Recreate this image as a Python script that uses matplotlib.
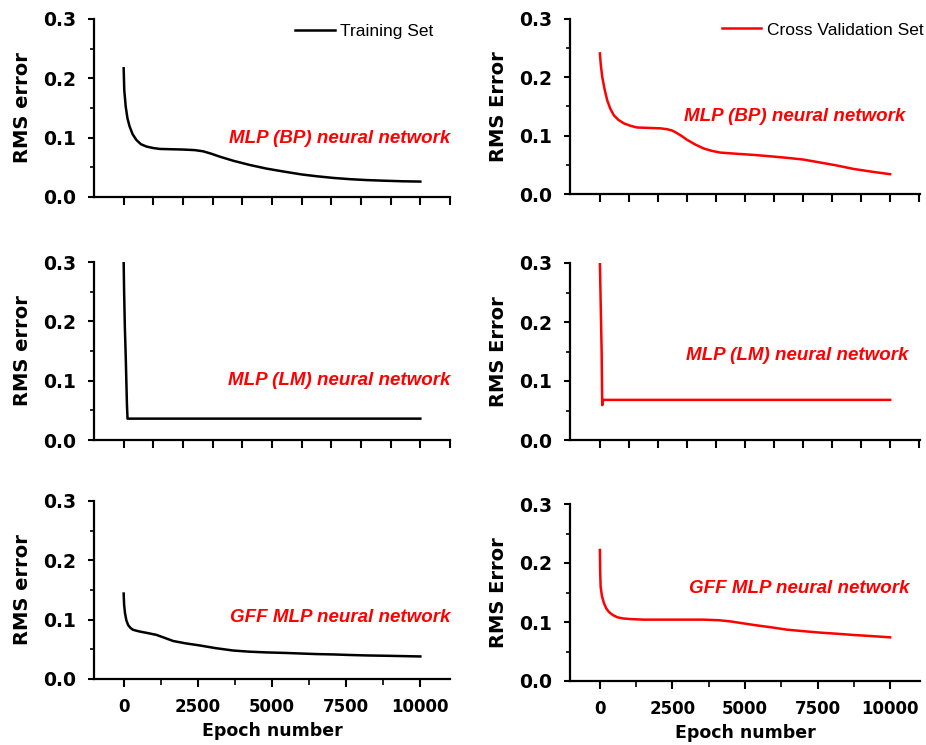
import numpy as np
import matplotlib
matplotlib.use("Agg")
import matplotlib.pyplot as plt
from matplotlib.ticker import MultipleLocator, FormatStrFormatter

plt.rcParams['font.family'] = ['DejaVu Sans']

# ---------------- data ----------------
# MLP (BP)
bp_train_x = [0, 20, 70, 130, 200, 300, 430, 580, 770, 1000, 1220, 1600, 2000, 2400, 2680, 2950, 3240,
              3700, 4250, 4800, 5380, 6000, 6500, 7100, 7640, 8200, 8760, 9400, 10000]
bp_train_y = [0.217, 0.180, 0.152, 0.132, 0.119, 0.106, 0.096, 0.089, 0.085, 0.0825, 0.081, 0.0805, 0.080, 0.079,
              0.077, 0.073, 0.068, 0.061, 0.054, 0.048, 0.043, 0.038, 0.035, 0.032, 0.030, 0.0285, 0.0275, 0.0265, 0.026]
bp_cv_x = [0, 30, 80, 160, 250, 360, 480, 640, 830, 1050, 1280, 1560, 1860, 2100, 2320, 2480, 2600, 2800,
           3000, 3280, 3580, 3850, 4150, 4700, 5300, 5900, 6450, 7020, 7300, 7590, 8150, 8740, 9400, 10000]
bp_cv_y = [0.241, 0.222, 0.201, 0.180, 0.161, 0.146, 0.135, 0.127, 0.121, 0.117, 0.114, 0.1135, 0.113, 0.1125,
           0.111, 0.109, 0.106, 0.100, 0.093, 0.085, 0.078, 0.074, 0.071, 0.069, 0.067, 0.0645, 0.062, 0.059,
           0.0565, 0.054, 0.049, 0.043, 0.038, 0.034]

# MLP (LM)
lm_train_x = [0, 15, 40, 70, 110, 130, 10000]
lm_train_y = [0.300, 0.250, 0.190, 0.140, 0.060, 0.036, 0.036]
lm_cv_x = [0, 20, 60, 80, 100, 120, 10000]
lm_cv_y = [0.300, 0.250, 0.150, 0.059, 0.065, 0.068, 0.068]

# GFF MLP
gff_train_x = [0, 15, 45, 90, 150, 230, 315, 420, 540, 800, 1100, 1400, 1670, 2100, 2570, 3100, 3690,
               4250, 4820, 5400, 5950, 6500, 7070, 7600, 8200, 9000, 10000]
gff_train_y = [0.144, 0.125, 0.111, 0.099, 0.091, 0.086, 0.083, 0.0815, 0.080, 0.0775, 0.0744, 0.069, 0.064,
               0.060, 0.0565, 0.052, 0.048, 0.046, 0.0448, 0.044, 0.043, 0.042, 0.0414, 0.0405, 0.0397, 0.039, 0.038]
gff_cv_x = [0, 10, 25, 70, 140, 220, 310, 440, 600, 800, 1050, 1500, 2430, 3000, 3580, 4100, 4500, 4900,
            5300, 5900, 6450, 7000, 7590, 8200, 8740, 9400, 10000]
gff_cv_y = [0.222, 0.185, 0.160, 0.144, 0.132, 0.123, 0.117, 0.112, 0.108, 0.106, 0.105, 0.104, 0.104, 0.104,
            0.104, 0.103, 0.101, 0.098, 0.095, 0.091, 0.087, 0.0845, 0.082, 0.080, 0.078, 0.076, 0.074]

network_names = ["MLP (BP) neural network", "MLP (LM) neural network", "GFF MLP neural network"]
train_series = [(bp_train_x, bp_train_y), (lm_train_x, lm_train_y), (gff_train_x, gff_train_y)]
cv_series = [(bp_cv_x, bp_cv_y), (lm_cv_x, lm_cv_y), (gff_cv_x, gff_cv_y)]

# ---------------- figure ----------------
fig = plt.figure(figsize=(9.26, 7.45), dpi=100)
W, H = 926.0, 745.0

def make_ax(x0, x1, ytop, ybot):
    return fig.add_axes([x0 / W, 1 - ybot / H, (x1 - x0) / W, (ybot - ytop) / H])

left_rows = [(19, 197), (262, 440), (501, 679)]
right_rows = [(19, 194), (263, 440), (504, 681)]

note_font = dict(family=['Liberation Sans', 'DejaVu Sans'], color='red', fontsize=13.5,
                 fontweight='bold', fontstyle='italic')
legend_font = {'family': ['Liberation Sans', 'DejaVu Sans'], 'size': 12.5}

def style_ax(ax, xlim, bottom):
    ax.set_xlim(*xlim)
    ax.set_ylim(0, 0.3)
    for s in ["top", "right"]:
        ax.spines[s].set_visible(False)
    for s in ["left", "bottom"]:
        ax.spines[s].set_linewidth(1.6)
    ax.yaxis.set_major_locator(MultipleLocator(0.1))
    ax.yaxis.set_minor_locator(MultipleLocator(0.05))
    ax.yaxis.set_major_formatter(FormatStrFormatter('%.1f'))
    if bottom:
        ax.xaxis.set_major_locator(MultipleLocator(2500))
        ax.xaxis.set_minor_locator(MultipleLocator(1250))
        ax.set_xlabel("Epoch number", fontsize=12.5, fontweight='bold', labelpad=4)
    else:
        ax.set_xticks(np.arange(0, 11001, 1000))
        ax.set_xticklabels([])
    ax.tick_params(axis='y', which='major', direction='out', length=4, width=1.5, labelsize=13.5, pad=9)
    ax.tick_params(axis='y', which='minor', direction='out', length=3, width=1.2)
    ax.tick_params(axis='x', which='major', direction='out', length=6, width=1.5, labelsize=12, pad=8)
    ax.tick_params(axis='x', which='minor', direction='out', length=4, width=1.2)
    for lab in ax.get_xticklabels() + ax.get_yticklabels():
        lab.set_fontweight('bold')

left_note_y = [0.33, 0.337, 0.343]
right_note_y = [0.443, 0.48, 0.525]
right_note_x = [0.957, 0.966, 0.969]

for i in range(3):
    bottom = (i == 2)
    # left column: training set
    ax = make_ax(94, 450, *left_rows[i])
    ax.plot(*train_series[i], color='black', lw=1.8, label="Training Set")
    style_ax(ax, (-1000, 11000), bottom)
    ax.set_ylabel("RMS error", fontsize=14, fontweight='bold', labelpad=8)
    ax.text(1.0, left_note_y[i], network_names[i], transform=ax.transAxes,
            ha='right', va='center', **note_font)
    if i == 0:
        ax.legend(loc='upper right', frameon=False, handlelength=2.3, handletextpad=0.3,
                  bbox_to_anchor=(0.997, 1.06), prop=legend_font)

    # right column: cross validation set
    ax = make_ax(570, 920, *right_rows[i])
    ax.plot(*cv_series[i], color='red', lw=1.8, label="Cross Validation Set")
    style_ax(ax, (-1030, 11030), bottom)
    ax.set_ylabel("RMS Error", fontsize=14, fontweight='bold', labelpad=8)
    ax.text(right_note_x[i], right_note_y[i], network_names[i], transform=ax.transAxes,
            ha='right', va='center', **note_font)
    if i == 0:
        ax.legend(loc='upper right', frameon=False, handlelength=2.3, handletextpad=0.3,
                  bbox_to_anchor=(1.054, 1.07), prop=legend_font)

fig.savefig("out.png", dpi=100)
